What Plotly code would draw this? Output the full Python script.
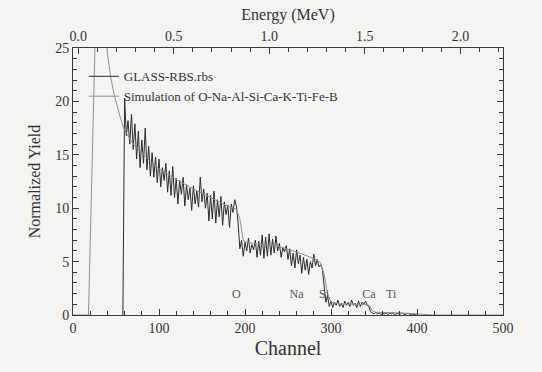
import numpy as np
import plotly.graph_objects as go

# ---- measured spectrum (channel step 2) ----
data_channels = list(range(58, 401, 2))
data_yield = [
    0.0, 20.3, 16.8, 18.2, 16.0, 18.8, 15.5, 17.9, 14.6, 17.2, 13.8,
    16.4, 14.2, 17.5, 13.6, 15.8, 13.0, 15.2, 12.9, 14.8, 12.4,
    14.6, 12.0, 13.8, 12.6, 14.2, 11.5, 13.5, 11.2, 13.9, 11.0,
    12.8, 10.4, 12.6, 11.3, 12.9, 10.2, 12.2, 10.8, 11.9, 9.8,
    12.1, 10.4, 11.6, 10.1, 12.9, 10.6, 11.8, 10.0, 11.4, 8.8,
    11.2, 9.0, 11.6, 8.6, 10.8, 9.2, 11.1, 8.4, 10.6, 9.4,
    10.3, 8.2, 10.4, 9.6, 10.8, 10.2, 8.6, 6.2, 7.0, 5.5,
    6.8, 6.0, 7.2, 5.8, 6.6, 6.1, 7.0, 5.4, 6.9, 5.6,
    7.5, 5.3, 7.3, 5.5, 7.6, 5.6, 7.1, 5.8, 7.4, 6.0,
    6.7, 5.4, 6.3, 5.9, 6.5, 5.2, 6.2, 4.6, 5.8, 4.4,
    6.1, 4.8, 5.6, 3.9, 5.4, 4.2, 5.2, 3.8, 5.0, 4.4,
    5.7, 4.6, 5.2, 4.5, 4.7, 4.3, 3.0, 1.2, 1.8, 0.8,
    1.3, 0.7, 1.2, 0.9, 1.4, 0.8, 1.1, 0.7, 1.3, 0.9,
    1.2, 0.8, 1.4, 0.9, 1.1, 0.7, 1.3, 0.8, 1.2, 1.0,
    1.3, 0.9, 0.8, 0.3, 0.2, 0.1, 0.25, 0.1, 0.2, 0.05,
    0.15, 0.1, 0.2, 0.05, 0.15, 0.1, 0.2, 0.05, 0.1, 0.15,
    0.05, 0.2, 0.1, 0.05, 0.1, 0.15, 0.05, 0.1, 0.05, 0.0,
    0.0,
]
assert len(data_channels) == len(data_yield), (len(data_channels), len(data_yield))

# ---- simulation curve ----
sim_channels = [0, 18, 27, 37, 40, 44, 48, 52, 56, 60, 70, 80, 90, 100, 120, 140,
                160, 180, 190, 194, 198, 202, 220, 240, 260, 280, 288, 292, 296,
                300, 310, 330, 344, 348, 352, 380, 405, 420, 500]
sim_yield = [0, 0, 30, 30, 24.5, 22.2, 20.6, 19.4, 18.2, 17.3, 16.0, 15.2, 14.4,
             13.7, 12.7, 11.8, 11.0, 10.2, 9.9, 9.0, 7.0, 6.8, 6.6, 6.4, 5.9,
             5.3, 4.9, 3.8, 2.0, 1.2, 1.05, 1.0, 0.95, 0.4, 0.25, 0.2, 0.1, 0, 0]

# ---- element edge labels ----
elem_labels = ["O", "Na", "Si", "Ca", "Ti"]
elem_channels = [190, 260, 292, 344, 370]
elem_y = [1.9, 1.9, 1.9, 1.9, 1.9]

# ---- energy calibration (top axis) ----
E_OFFSET = -0.027   # MeV at channel 0
E_PER_CH = 0.0045   # MeV per channel
CH_MIN, CH_MAX = 0, 500
energy_range = [E_OFFSET + E_PER_CH * CH_MIN, E_OFFSET + E_PER_CH * CH_MAX]

FONT = "Times New Roman, Liberation Serif, DejaVu Serif, serif"
AX = "#3a3a3a"
TXT = "#333333"

fig = go.Figure()
fig.add_trace(go.Scatter(
    x=data_channels, y=data_yield, mode="lines", name="GLASS-RBS.rbs",
    line=dict(color="#2b2b2b", width=1)))
fig.add_trace(go.Scatter(
    x=sim_channels, y=sim_yield, mode="lines",
    name="Simulation of O-Na-Al-Si-Ca-K-Ti-Fe-B",
    line=dict(color="#909090", width=1)))
fig.add_trace(go.Scatter(
    x=energy_range, y=[0, 0], xaxis="x2", mode="lines",
    line=dict(width=0), showlegend=False, hoverinfo="skip"))
fig.add_trace(go.Scatter(
    x=elem_channels, y=elem_y, mode="text", text=elem_labels,
    textfont=dict(family=FONT, size=12, color="#555555"),
    showlegend=False, hoverinfo="skip"))

fig.update_layout(
    width=542, height=372,
    margin=dict(l=73, r=39, t=48, b=57, autoexpand=False),
    paper_bgcolor="#f4f4f2", plot_bgcolor="#f4f4f2",
    font=dict(family=FONT, color=TXT, size=14),
    showlegend=True,
    legend=dict(x=0.025, y=0.95, xanchor="left", yanchor="top",
                bgcolor="rgba(0,0,0,0)", font=dict(family=FONT, size=13, color=TXT),
                tracegroupgap=0),
    xaxis=dict(range=[CH_MIN, CH_MAX], tick0=0, dtick=100, ticks="inside",
               ticklen=6, tickcolor=AX, showline=True, linecolor=AX, linewidth=1,
               showgrid=False, zeroline=False, automargin=False,
               minor=dict(dtick=20, ticks="inside", ticklen=4, tickcolor=AX),
               tickfont=dict(family=FONT, size=14, color=TXT),
               title=dict(text="Channel", font=dict(family=FONT, size=20, color=TXT),
                          standoff=6)),
    xaxis2=dict(overlaying="x", side="top", range=energy_range, tick0=0, dtick=0.5,
                tickformat=".1f", ticks="inside", ticklen=6, tickcolor=AX,
                showline=True, linecolor=AX, linewidth=1, showgrid=False, zeroline=False,
                automargin=False,
                minor=dict(dtick=0.1, ticks="inside", ticklen=4, tickcolor=AX),
                tickfont=dict(family=FONT, size=14, color=TXT),
                title=dict(text="Energy (MeV)", font=dict(family=FONT, size=16, color=TXT),
                           standoff=4)),
    yaxis=dict(range=[0, 25], tick0=0, dtick=5, ticks="inside", ticklen=6,
               tickcolor=AX, showline=True, linecolor=AX, linewidth=1, mirror="ticks",
               showgrid=False, zeroline=False, automargin=False,
               minor=dict(dtick=1, ticks="inside", ticklen=4, tickcolor=AX),
               tickfont=dict(family=FONT, size=14, color=TXT),
               title=dict(text="Normalized Yield", font=dict(family=FONT, size=16, color=TXT),
                          standoff=10)),
)

fig.write_html("out.html", config={"displayModeBar": False},
               post_script="document.body.style.margin='0';document.body.style.background='#f4f4f2';")
